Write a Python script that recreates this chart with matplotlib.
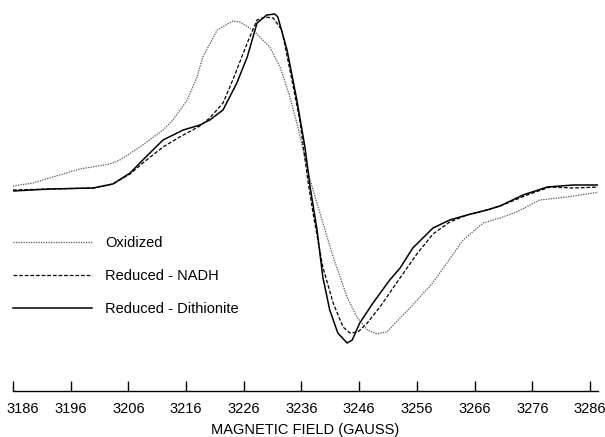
import matplotlib
matplotlib.use("Agg")
import matplotlib.pyplot as plt
from matplotlib.transforms import ScaledTranslation

plt.rcParams['font.family'] = ['Liberation Sans', 'DejaVu Sans']

# Field positions (gauss) and first-derivative EPR intensities (arbitrary units)
field_ox = [3186.0, 3189.5, 3192.9, 3197.6, 3202.8, 3204.5, 3208.0, 3212.0, 3213.7,
            3216.2, 3217.9, 3218.9, 3221.4, 3224.1, 3225.3, 3227.6, 3230.5, 3232.3,
            3234.0, 3235.2, 3236.3, 3237.5, 3239.2, 3241.5, 3243.9, 3245.6, 3247.4,
            3249.1, 3250.8, 3253.1, 3255.3, 3256.5, 3258.3, 3260.0, 3264.0, 3267.5,
            3270.4, 3273.3, 3277.3, 3282.0, 3287.7]
signal_ox = [2, 5, 11, 19, 24, 28, 41, 58, 68,
             88, 111, 131, 158, 167, 166, 158, 141, 121,
             91, 65, 38, 8, -25, -69, -109, -129, -142,
             -146, -144, -130, -117, -109, -98, -85, -52, -35,
             -30, -24, -12, -9, -4]

field_nadh = [3186.0, 3192.4, 3199.9, 3203.3, 3206.3, 3208.5, 3212.0, 3214.9, 3218.4,
              3220.1, 3222.4, 3224.1, 3226.6, 3228.3, 3229.7, 3231.1, 3232.6, 3234.0,
              3235.7, 3237.1, 3238.0, 3239.7, 3241.5, 3243.2, 3244.4, 3245.8, 3247.4,
              3249.6, 3252.6, 3256.0, 3258.8, 3261.7, 3264.7, 3268.7, 3270.9, 3275.1,
              3279.1, 3283.1, 3287.7]
signal_nadh = [-2, -1, 0, 4, 14, 25, 41, 51, 62,
               70, 85, 108, 145, 168, 171, 170, 158, 118,
               68, 8, -25, -79, -115, -139, -145, -144, -135,
               -119, -94, -66, -46, -34, -27, -21, -17, -7,
               1, 0, 1]

field_dith = [3186.0, 3192.4, 3199.9, 3203.3, 3206.3, 3208.5, 3212.0, 3215.5, 3218.4,
              3220.1, 3222.4, 3224.8, 3226.6, 3228.3, 3230.0, 3231.4, 3231.9, 3233.5,
              3235.2, 3236.6, 3237.5, 3238.7, 3239.7, 3240.9, 3242.3, 3243.9, 3244.8,
              3246.1, 3248.4, 3251.3, 3253.1, 3255.3, 3258.8, 3261.7, 3264.7, 3268.2,
              3270.4, 3274.4, 3278.6, 3283.1, 3287.7]
signal_dith = [-3, -1, 0, 4, 15, 28, 48, 58, 63,
               68, 78, 105, 131, 165, 173, 174, 171, 138,
               88, 41, 1, -42, -89, -122, -145, -155, -152,
               -135, -115, -92, -80, -60, -40, -32, -27, -22,
               -18, -7, 1, 3, 3]

labels = ["Oxidized", "Reduced - NADH", "Reduced - Dithionite"]
tick_fields = list(range(3186, 3287, 10))

fig = plt.figure(figsize=(6.05, 4.37), dpi=100)
ax = fig.add_axes([13 / 605, (437 - 391) / 437, 585 / 605, 386 / 437])

ax.plot(field_ox, signal_ox, color="#555555", lw=0.9, ls=(0, (1, 1)), label=labels[0])
ax.plot(field_nadh, signal_nadh, color="black", lw=0.9, ls=(0, (3, 1.5)), label=labels[1])
ax.plot(field_dith, signal_dith, color="black", lw=1.1, ls="-", label=labels[2])

ax.set_xlim(3186, 3287.4)
ax.set_ylim(-203, 183)

for side in ("top", "left", "right"):
    ax.spines[side].set_visible(False)
ax.spines["bottom"].set_linewidth(1.0)
ax.set_yticks([])
ax.set_xticks(tick_fields)
ax.set_xticklabels([str(t) for t in tick_fields])
ax.tick_params(axis="x", direction="in", length=7.5, width=1.0, pad=8, labelsize=10.5)
ax.set_xlabel("MAGNETIC FIELD (GAUSS)", fontsize=10.5, labelpad=5)

# nudge the first tick label inward so it stays on the canvas
first = ax.get_xticklabels()[0]
first.set_transform(first.get_transform() + ScaledTranslation(10 / 100, 0, fig.dpi_scale_trans))

ax.legend(loc="upper left", bbox_to_anchor=(-0.022, 0.435), frameon=False,
          fontsize=10.5, handlelength=5.4, handletextpad=0.9, labelspacing=1.3)

fig.savefig("out.png", dpi=100)
